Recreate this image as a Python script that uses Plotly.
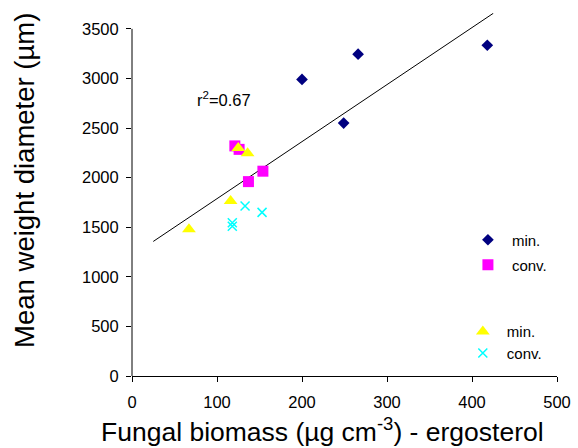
import plotly.graph_objects as go

# Data
min_a_x = [200, 266, 418, 249]
min_a_y = [2990, 3245, 3335, 2550]
conv_a_x = [121, 126, 137, 154]
conv_a_y = [2320, 2285, 1960, 2065]
min_b_x = [125, 136, 116, 67]
min_b_y = [2300, 2245, 1765, 1480]
conv_b_x = [133, 153, 118, 118]
conv_b_y = [1715, 1650, 1545, 1510]
trend_x = [25, 425]
trend_slope = 5.75
trend_intercept = 1213
trend_y = [trend_intercept + trend_slope * v for v in trend_x]
x_ticks = [0, 100, 200, 300, 400, 500]
y_ticks = [0, 500, 1000, 1500, 2000, 2500, 3000, 3500]
x_title = "Fungal biomass (µg cm<sup>-3</sup>) - ergosterol"
y_title = "Mean weight diameter (µm)"

FONT = "Liberation Sans, Arial, sans-serif"

fig = go.Figure()
fig.add_trace(go.Scatter(x=trend_x, y=trend_y, mode="lines",
                         line=dict(color="black", width=1), showlegend=False, hoverinfo="skip"))
fig.add_trace(go.Scatter(x=min_a_x, y=min_a_y, mode="markers", name="min.",
                         marker=dict(symbol="diamond", size=9, color="#000080"), legend="legend"))
fig.add_trace(go.Scatter(x=conv_a_x, y=conv_a_y, mode="markers", name="conv.",
                         marker=dict(symbol="square", size=11, color="#FF00FF"), legend="legend2"))
fig.add_trace(go.Scatter(x=min_b_x, y=min_b_y, mode="markers", name="min.",
                         marker=dict(symbol="triangle-up", size=12, color="#FFFF00"), legend="legend3"))
fig.add_trace(go.Scatter(x=conv_b_x, y=conv_b_y, mode="markers", name="conv.",
                         marker=dict(symbol="x-thin", size=9, color="#00FFFF",
                                     line=dict(color="#00FFFF", width=1.5)), legend="legend4"))

def leg(x, y):
    return dict(x=x, y=y, xanchor="left", yanchor="middle", bgcolor="rgba(0,0,0,0)",
                itemwidth=38,
                font=dict(family=FONT, size=15, color="black"), borderwidth=0)

fig.update_layout(
    width=578, height=448,
    margin=dict(l=132, r=21, t=13, b=72),
    paper_bgcolor="white", plot_bgcolor="white",
    font=dict(family=FONT, color="black"),
    legend=leg(0.781, 0.3747), legend2=leg(0.781, 0.3058),
    legend3=leg(0.769, 0.122), legend4=leg(0.769, 0.0625),
    annotations=[
        dict(x=108, y=2790, xref="x", yref="y", text="r<sup>2</sup>=0.67",
             showarrow=False, font=dict(family=FONT, size=16.5, color="black")),
        dict(x=0.448, y=-0.149, xref="paper", yref="paper", text=x_title,
             xanchor="center", yanchor="middle", showarrow=False,
             font=dict(family=FONT, size=26.5, color="black")),
        dict(x=-0.252, y=0.54, xref="paper", yref="paper", text=y_title, textangle=-90,
             xanchor="center", yanchor="middle", showarrow=False,
             font=dict(family=FONT, size=27.5, color="black")),
    ],
    shapes=[dict(type="line", xref="paper", yref="y", x0=0, x1=0, y0=0, y1=3500,
                 line=dict(color="black", width=1))],
)
fig.update_xaxes(range=[0, 500], tickvals=x_ticks, ticks="outside", ticklen=5, tickcolor="black",
                 showline=True, linecolor="black", linewidth=1, showgrid=False, zeroline=False,
                 automargin=False, ticklabelstandoff=6,
                 tickfont=dict(family=FONT, size=16.5, color="black"))
fig.update_yaxes(range=[0, 3660], tickvals=y_ticks, ticks="outside", ticklen=5, tickcolor="black",
                 showline=False, showgrid=False, zeroline=False, automargin=False,
                 ticklabelstandoff=4,
                 tickfont=dict(family=FONT, size=16.5, color="black"))

fig.write_html("out.html", config={"displayModeBar": False},
               post_script="document.body.style.margin='0px';")
